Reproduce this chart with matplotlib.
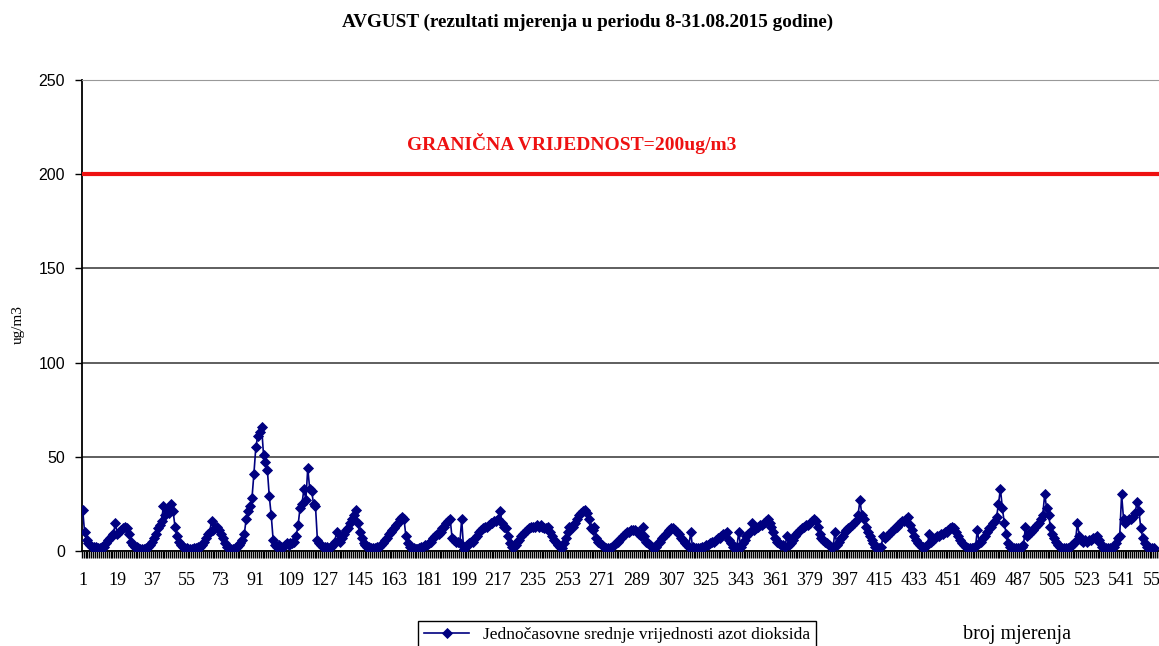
import numpy as np
import matplotlib
matplotlib.use("Agg")
import matplotlib.pyplot as plt

# hourly NO2 means, 8-31.08.2015 (one row = 24 measurements)
no2_values = [
    22, 10, 6, 4, 3, 2, 2, 2, 1.5, 1.5, 2, 2, 4, 6, 7, 8, 9, 15, 9, 10, 11, 12, 13, 12,
    9, 5, 3, 2, 2, 1.5, 1, 1, 1, 1.5, 2, 3, 5, 7, 9, 12, 14, 16, 24, 19, 22, 20, 25, 21,
    13, 8, 5, 3, 2, 1.5, 1.5, 1, 1, 1, 1.5, 1.5, 2, 2, 3, 5, 7, 9, 10, 16, 11, 12, 13, 11,
    9, 7, 4, 2, 1.5, 1, 1, 1.5, 2, 3, 4, 6, 9, 17, 21, 24, 28, 41, 55, 61, 63, 66, 51, 47,
    43, 29, 19, 6, 3, 2, 3, 2, 2, 3, 4, 3, 4, 4, 5, 8, 14, 23, 25, 33, 27, 44, 33, 32,
    25, 24, 6, 4, 3, 2, 2, 2, 1.5, 2, 3, 5, 10, 6, 5, 7, 9, 11, 12, 15, 17, 19, 22, 15,
    10, 7, 4, 3, 2, 2, 1.5, 1.5, 1.5, 2, 2, 3, 4, 6, 7, 9, 10, 11, 12, 14, 15, 17, 18, 17,
    8, 4, 2, 1.5, 1.5, 1, 1, 1.5, 2, 2, 3, 3, 4, 5, 7, 8, 9, 9, 10, 12, 13, 15, 16, 17,
    7, 6, 5, 5, 4, 17, 1, 2, 3, 4, 5, 5, 7, 8, 10, 11, 12, 13, 13, 14, 15, 15, 16, 16,
    17, 21, 15, 13, 12, 8, 4, 2, 2, 3, 5, 6, 8, 9, 10, 11, 12, 13, 13, 13, 14, 13, 14, 13,
    12, 12, 13, 10, 8, 6, 5, 3, 2, 1.5, 4, 7, 10, 13, 13, 13, 15, 17, 19, 20, 21, 22, 20, 17,
    12, 11, 13, 7, 5, 4, 3, 2, 1.5, 1.5, 1.5, 2, 3, 4, 5, 6, 7, 8, 9, 10, 10, 11, 11, 11,
    10, 9, 8, 13, 8, 5, 4, 3, 2, 1.5, 2, 4, 5, 7, 8, 9, 10, 11, 12, 12, 11, 10, 9, 7,
    6, 4, 3, 2, 10, 2, 1.5, 1.5, 1.5, 1.5, 2, 2, 3, 3, 4, 5, 5, 6, 7, 7, 8, 9, 9, 10,
    6, 4, 2, 1.5, 2, 10, 2, 4, 6, 8, 9, 10, 15, 11, 12, 13, 14, 14, 15, 16, 17, 15, 13, 10,
    7, 5, 4, 3, 3, 2, 8, 3, 4, 6, 8, 9, 10, 11, 12, 13, 14, 14, 15, 16, 17, 16, 13, 9,
    7, 6, 5, 4, 3, 2, 2, 10, 3, 5, 7, 8, 10, 11, 12, 13, 14, 15, 16, 19, 27, 19, 17, 13,
    10, 8, 6, 4, 2, 1.5, 1.5, 2, 8, 7, 8, 9, 10, 11, 12, 13, 14, 15, 16, 16, 17, 18, 14, 11,
    8, 6, 4, 3, 2, 2, 2, 3, 9, 5, 6, 7, 8, 8, 9, 9, 10, 10, 11, 12, 13, 12, 10, 8,
    6, 4, 3, 2, 1.5, 1.5, 1.5, 1.5, 2, 11, 4, 5, 7, 8, 10, 12, 13, 15, 16, 18, 25, 33, 23, 15,
    9, 4, 2, 1.5, 1.5, 1.5, 1.5, 1.5, 2, 3, 13, 8, 9, 10, 11, 13, 14, 15, 17, 19, 30, 23, 19, 13,
    9, 7, 5, 3, 2, 1.5, 1.5, 1.5, 1.5, 2, 3, 4, 5, 15, 8, 6, 5, 6, 5, 6, 6, 7, 7, 8,
    6, 4, 2, 1.5, 1.5, 1.5, 1.5, 1.5, 2, 4, 7, 8, 30, 17, 15, 16, 17, 17, 18, 20, 26, 21, 12, 7,
    4, 2, 1.5, 1.5, 1.5, 1.5,
]
measurement_no = np.arange(1, len(no2_values) + 1)
n_categories = 576  # 24 days x 24 h, chart is cut at the right edge
limit_value = 200
y_ticks = [0, 50, 100, 150, 200, 250]
x_label_ticks = list(range(1, n_categories + 1, 18))

serif = "Liberation Serif"
sans = "Liberation Sans"

fig = plt.figure(figsize=(11.59, 6.46), dpi=100)
W, H = 1159, 646
left, bottom, top = 81.7 / W, (H - 551) / H, (H - 80) / H
width = n_categories * 1.924 / W
ax = fig.add_axes([left, bottom, width, top - bottom])

line, = ax.plot(measurement_no, no2_values, color="#000080", lw=1.2,
                marker="D", markersize=5.4, markeredgewidth=0.6, zorder=3)
ax.axhline(limit_value, color="#ee1111", lw=3.0, zorder=4)
ax.text(255, 216.5, "GRANIČNA VRIJEDNOST=200ug/m3", color="#ee1111",
        fontsize=14, fontweight="bold", family=serif, ha="center", va="center")

ax.set_xlim(0.5, n_categories + 0.5)
ax.set_ylim(0, 250)
ax.set_yticks(y_ticks)
ax.yaxis.grid(True, color="#333333", lw=1.1)
ax.set_axisbelow(True)

ax.set_xticks(x_label_ticks)
ax.set_xticklabels([str(v) for v in x_label_ticks], family=serif, fontsize=13)
ax.set_xticks(np.arange(0.5, n_categories + 1, 1), minor=True)
ax.tick_params(axis="x", which="major", length=0, pad=15)
ax.tick_params(axis="x", which="minor", length=5, width=1, color="black", direction="out")
ax.tick_params(axis="y", length=5, width=1, pad=7, labelsize=11.5)
for lab in ax.get_yticklabels():
    lab.set_family(sans)

ax.spines["left"].set_color("black")
ax.spines["left"].set_linewidth(1.3)
ax.spines["bottom"].set_color("black")
ax.spines["bottom"].set_linewidth(1.3)
ax.spines["top"].set_color("#999999")
ax.spines["right"].set_visible(False)

fig.text(0.507, 1 - 22 / H, "AVGUST (rezultati mjerenja u periodu 8-31.08.2015 godine)",
         family=serif, fontweight="bold", fontsize=13.8, ha="center", va="center")
fig.text(18 / W, 1 - 325 / H, "ug/m3", family=serif, fontsize=11,
         rotation=90, ha="center", va="center")
fig.text(1017 / W, 1 - 635 / H, "broj mjerenja", family=serif, fontsize=14.5,
         ha="center", va="center")

leg = fig.legend([line], ["Jednočasovne srednje vrijednosti azot dioksida"],
                 loc="upper left", bbox_to_anchor=(418 / W, 1 - 621 / H),
                 borderaxespad=0, fancybox=False, edgecolor="black",
                 prop={"family": serif, "size": 12.5}, handlelength=2.6,
                 borderpad=0.35, framealpha=1)
leg.get_frame().set_linewidth(1.0)

fig.savefig("out.png", dpi=100)
